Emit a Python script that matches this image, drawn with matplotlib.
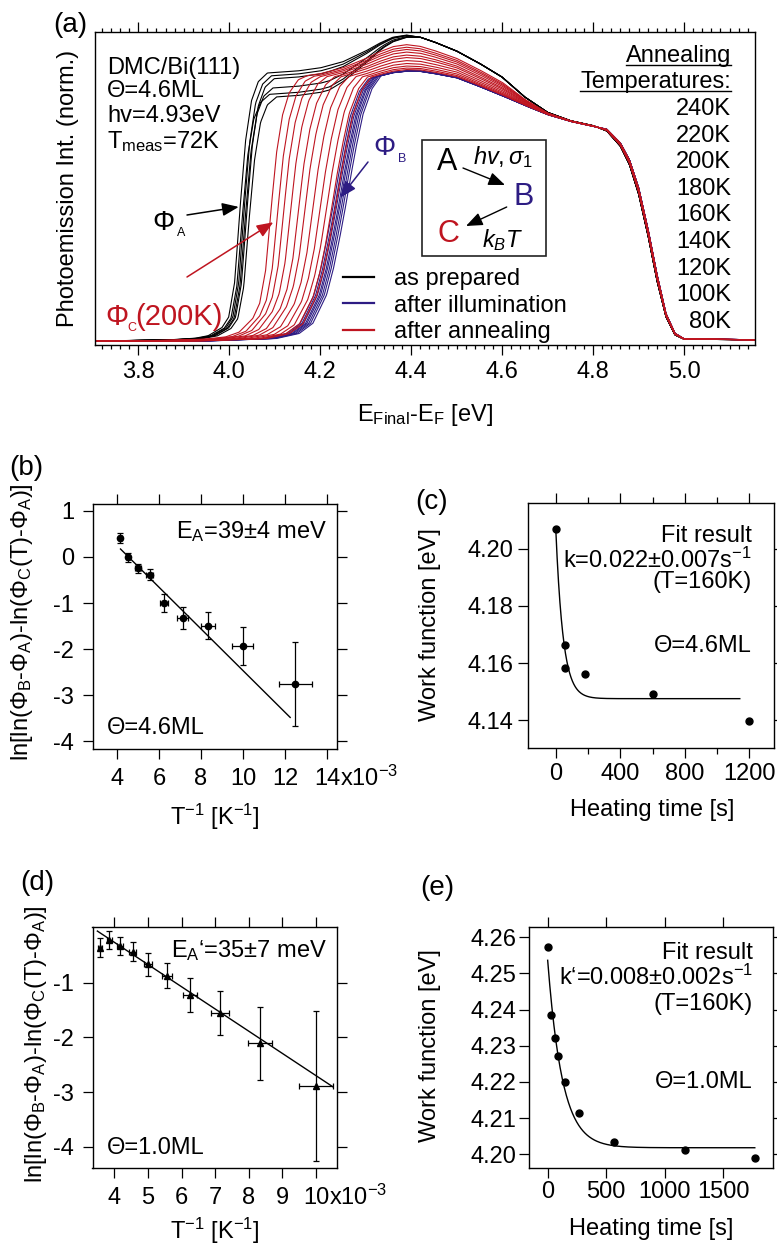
import numpy as np
import matplotlib
matplotlib.use('Agg')
import matplotlib.pyplot as plt
from matplotlib.lines import Line2D
from matplotlib.patches import Rectangle
from matplotlib.ticker import MultipleLocator, FormatStrFormatter, FuncFormatter

plt.rcParams['font.family'] = ['Liberation Sans', 'DejaVu Sans']
plt.rcParams['font.size'] = 17
plt.rcParams['mathtext.fontset'] = 'custom'
plt.rcParams['mathtext.rm'] = 'Liberation Sans'
plt.rcParams['mathtext.it'] = 'Liberation Sans:italic'
plt.rcParams['mathtext.bf'] = 'Liberation Sans:bold'
plt.rcParams['axes.unicode_minus'] = False
plt.rcParams['axes.linewidth'] = 1.0

k_B = 8.617e-5  # eV/K

BLACK = '#000000'
BLUE = '#2d1c83'
RED = '#bf1520'

# ---------------- (a) 2PPE spectra ----------------
# high energy envelope (normalised intensity) for prepared / illuminated film
env_energy = [3.70, 4.00, 4.05, 4.10, 4.15, 4.20, 4.25, 4.30, 4.33, 4.36, 4.39, 4.42,
              4.45, 4.50, 4.55, 4.60, 4.65, 4.70, 4.75, 4.80, 4.83, 4.86, 4.88, 4.90,
              4.92, 4.94, 4.96, 4.98, 5.00, 5.16]
env_prepared = [0.87, 0.87, 0.87, 0.875, 0.88, 0.89, 0.91, 0.945, 0.97, 0.99, 0.997, 0.99,
                0.975, 0.945, 0.905, 0.86, 0.795, 0.745, 0.718, 0.702, 0.685, 0.635, 0.575,
                0.48, 0.35, 0.20, 0.08, 0.02, 0.006, 0.004]
env_illuminated = [0.80, 0.80, 0.81, 0.815, 0.82, 0.83, 0.845, 0.86, 0.872, 0.882, 0.886,
                   0.884, 0.876, 0.86, 0.83, 0.80, 0.768, 0.738, 0.716, 0.70, 0.69, 0.645,
                   0.59, 0.50, 0.37, 0.22, 0.09, 0.025, 0.007, 0.004]

# low energy cut-off shape (fraction of envelope) vs. distance from the cut-off
edge_de = [-0.30, -0.15, -0.10, -0.07, -0.04, -0.025, -0.012, 0.0, 0.012, 0.025, 0.04,
           0.06, 0.08, 0.30]
edge_prepared = [0.0, 0.005, 0.01, 0.02, 0.05, 0.09, 0.22, 0.50, 0.75, 0.90, 0.97,
                 1.0, 1.0, 1.0]
edge_illuminated = [0.0, 0.01, 0.03, 0.07, 0.18, 0.28, 0.39, 0.50, 0.62, 0.74, 0.86,
                    0.95, 0.99, 1.0]

# lower plateau of some "as prepared" scans
dip_energy = [3.90, 4.06, 4.22, 4.34, 4.42]
dip_shape = [0.0, 1.0, 1.0, 0.25, 0.0]

cutoff_prepared = [4.024, 4.029, 4.033, 4.036, 4.039, 4.044]
dip_prepared = [0.0, 0.07, 0.01, 0.05, 0.02, 0.08]
cutoff_illuminated = [4.226, 4.230, 4.234, 4.238, 4.241, 4.245, 4.249, 4.254]
cutoff_annealed = [4.092, 4.107, 4.120, 4.135, 4.152, 4.166, 4.183, 4.199, 4.213,
                   4.224, 4.232]
anneal_labels = ['240K', '220K', '200K', '180K', '160K', '140K', '120K', '100K', '80K']

E = np.linspace(3.70, 5.16, 900)


def spectrum(cut, mix, dip=0.0):
    env = ((1 - mix) * np.interp(E, env_energy, env_prepared)
           + mix * np.interp(E, env_energy, env_illuminated))
    env = env - dip * np.interp(E, dip_energy, dip_shape)
    edge = ((1 - mix) * np.interp(E - cut, edge_de, edge_prepared)
            + mix * np.interp(E - cut, edge_de, edge_illuminated))
    return env * edge + 0.003


# ---------------- (b) Arrhenius, 4.6 ML ----------------
temps_b = [240, 220, 200, 180, 160, 140, 120, 100, 80]
lnln_b = [0.42, -0.01, -0.25, -0.39, -1.00, -1.32, -1.49, -1.93, -2.75]
lnln_b_err = [0.11, 0.10, 0.10, 0.12, 0.19, 0.24, 0.29, 0.41, 0.91]
invT_b_err = [0.09e-3, 0.10e-3, 0.13e-3, 0.15e-3, 0.20e-3, 0.26e-3, 0.35e-3, 0.50e-3, 0.78e-3]
EA_b = 39e-3
fit_b_offset = 2.06
fit_b_range = [4.17e-3, 12.25e-3]

# ---------------- (c) work function vs heating time, 4.6 ML ----------------
time_c = [0, 60, 60, 180, 600, 1200]
wf_c = [4.2070, 4.1664, 4.1582, 4.1562, 4.1492, 4.1397]
k_c = 0.022
wf_c_start = 4.2070
wf_c_end = 4.1475
fit_c_tmax = 1140

# ---------------- (d) Arrhenius, 1.0 ML ----------------
temps_d = [280, 260, 240, 220, 200, 180, 160, 140, 120, 100]
lnln_d = [-0.36, -0.22, -0.33, -0.43, -0.66, -0.87, -1.22, -1.56, -2.11, -2.89]
lnln_d_err = [0.17, 0.16, 0.17, 0.17, 0.21, 0.23, 0.31, 0.40, 0.67, 1.37]
invT_d_err = [0.064e-3, 0.074e-3, 0.087e-3, 0.103e-3, 0.125e-3, 0.154e-3, 0.195e-3,
              0.255e-3, 0.347e-3, 0.50e-3]
EA_d = 35e-3
fit_d_offset = 1.363
fit_d_range = [3.49e-3, 10.5e-3]

# ---------------- (e) work function vs heating time, 1.0 ML ----------------
time_e = [0, 30, 60, 90, 150, 270, 570, 1170, 1770]
wf_e = [4.2574, 4.2386, 4.2320, 4.2272, 4.2200, 4.2115, 4.2035, 4.2013, 4.1989]
k_e = 0.008
wf_e_start = 4.2536
wf_e_end = 4.2018
fit_e_tmax = 1770

# ================================================================
W, H = 777.0, 1246.0
fig = plt.figure(figsize=(7.77, 12.46), dpi=100)


def box(x0, y0, x1, y1):
    return [x0 / W, 1 - y1 / H, (x1 - x0) / W, (y1 - y0) / H]


def fpos(x, y):
    return (x / W, 1 - y / H)


ax_a = fig.add_axes(box(95, 32, 755, 345))
ax_b = fig.add_axes(box(93, 504, 337, 749))
ax_c = fig.add_axes(box(528, 503, 774, 748))
ax_d = fig.add_axes(box(92.5, 927, 336.7, 1168))
ax_e = fig.add_axes(box(529.3, 927, 772.7, 1168))

# ---- (a) ----
ax = ax_a
for cut, dip in zip(cutoff_prepared, dip_prepared):
    ax.plot(E, spectrum(cut, 0.0, dip), color=BLACK, lw=0.8)
for cut in cutoff_illuminated:
    ax.plot(E, spectrum(cut, 1.0), color=BLUE, lw=0.8)
c0, c1 = np.mean(cutoff_prepared), np.mean(cutoff_illuminated)
for cut in cutoff_annealed:
    mix = float(np.clip((cut - c0) / (c1 - c0), 0, 1))
    ax.plot(E, spectrum(cut, mix), color=RED, lw=0.8)

ax.set_xlim(3.705, 5.156)
ax.set_ylim(-0.01, 1.01)
ax.set_yticks([])
ax.xaxis.set_major_locator(MultipleLocator(0.2))
ax.xaxis.set_minor_locator(MultipleLocator(0.02))
ax.xaxis.set_major_formatter(FormatStrFormatter('%.1f'))
ax.tick_params(axis='x', which='both', direction='out', top=True, width=0.9)
ax.tick_params(axis='x', which='major', length=7.5, pad=4)
ax.tick_params(axis='x', which='minor', length=3)
ax.set_xlabel('E$_\\mathrm{Final}$-E$_\\mathrm{F}$ [eV]', va='center')
ax.xaxis.set_label_coords(0.5, -0.224)
ax.set_ylabel('Photoemission Int. (norm.)', va='center')
ax.yaxis.set_label_coords((68 - 95) / 660, 0.5)


def afrac(x, y):
    return ((x - 95) / 660, (345 - y) / 313)


info = ['DMC/Bi(111)', 'Θ=4.6ML', 'hv=4.93eV', 'T$_\\mathrm{meas}$=72K']
for txt, yb in zip(info, [74, 97, 122, 148]):
    ax.text(*afrac(107, yb), txt, transform=ax.transAxes, ha='left', va='baseline')

t_ann = ax.text(*afrac(731, 62), 'Annealing', transform=ax.transAxes,
                ha='right', va='baseline')
t_tmp = ax.text(*afrac(731, 88), 'Temperatures:', transform=ax.transAxes,
                ha='right', va='baseline')
for i, lab in enumerate(anneal_labels):
    ax.text(*afrac(731, 115 + i * 26.6), lab, transform=ax.transAxes,
            ha='right', va='baseline')

# reaction scheme
ax.add_patch(Rectangle(afrac(421.7, 256), 124 / 660, 116 / 313, transform=ax.transAxes,
                       fill=False, lw=1.2, ec='#222222'))
ax.text(*afrac(446.7, 162), 'A', transform=ax.transAxes, ha='center', va='center',
        fontsize=22, color=BLACK)
ax.text(*afrac(523.3, 197), 'B', transform=ax.transAxes, ha='center', va='center',
        fontsize=22, color=BLUE)
ax.text(*afrac(448.3, 234), 'C', transform=ax.transAxes, ha='center', va='center',
        fontsize=22, color=RED)
ax.text(*afrac(503, 157), '$\\mathit{hv,σ_1}$', transform=ax.transAxes,
        ha='center', va='center', fontsize=17)
ax.text(*afrac(503, 240), '$\\mathit{k_BT}$', transform=ax.transAxes,
        ha='center', va='center', fontsize=17)
small_head = dict(arrowstyle='-|>,head_length=0.5,head_width=0.2', color=BLACK, lw=1.0,
                  mutation_scale=20, shrinkA=0, shrinkB=0)
ax.annotate('', xy=afrac(505, 185), xytext=afrac(463, 168), xycoords='axes fraction',
            textcoords='axes fraction', arrowprops=small_head)
ax.annotate('', xy=afrac(466, 226), xytext=afrac(506.7, 207), xycoords='axes fraction',
            textcoords='axes fraction', arrowprops=small_head)

# work function markers
head = '-|>,head_length=0.5,head_width=0.2'
fig.text(*fpos(152, 230), 'Φ', fontsize=20, color=BLACK, ha='left', va='baseline')
fig.text(*fpos(177, 236), 'A', fontsize=9, color=BLACK, ha='left', va='baseline')
ax.annotate('', xy=(4.021, 0.44), xytext=(187, H - 215), textcoords='figure pixels',
            arrowprops=dict(arrowstyle=head, color=BLACK, lw=1.1, mutation_scale=20,
                            shrinkA=0, shrinkB=0))
fig.text(*fpos(373, 155), 'Φ', fontsize=20, color=BLUE, ha='left', va='baseline')
fig.text(*fpos(398, 162), 'B', fontsize=9, color=BLUE, ha='left', va='baseline')
ax.annotate('', xy=(4.244, 0.47), xytext=(368, H - 162), textcoords='figure pixels',
            arrowprops=dict(arrowstyle=head, color=BLUE, lw=1.1, mutation_scale=20,
                            shrinkA=0, shrinkB=0))
fig.text(*fpos(105, 325), 'Φ', fontsize=21, color=RED, ha='left', va='baseline')
fig.text(*fpos(127, 331), 'C', fontsize=9, color=RED, ha='left', va='baseline')
fig.text(*fpos(135, 325), '(200K)', fontsize=21, color=RED, ha='left', va='baseline')
ax.annotate('', xy=(4.097, 0.39), xytext=(187, H - 277), textcoords='figure pixels',
            arrowprops=dict(arrowstyle=head, color=RED, lw=1.1, mutation_scale=20,
                            shrinkA=0, shrinkB=0))

handles = [Line2D([], [], color=c, lw=1.6) for c in (BLACK, BLUE, RED)]
ax.legend(handles, ['as prepared', 'after illumination', 'after annealing'],
          loc='upper left', bbox_to_anchor=((343 - 95) / 660, (345 - 268) / 313),
          frameon=False, handlelength=1.3, handletextpad=0.85, labelspacing=0.2,
          borderpad=0, borderaxespad=0)


# ---- shared styling for the small panels ----
def frame(ax, pad):
    ax.tick_params(which='both', direction='out', top=True, right=True, width=0.9, pad=pad)
    ax.tick_params(which='major', length=7.5)
    ax.tick_params(which='minor', length=4)


milli = FuncFormatter(lambda v, p: f'{v * 1e3:.0f}')

# ---- (b) ----
ax = ax_b
invT_b = 1.0 / np.array(temps_b)
ax.errorbar(invT_b, lnln_b, yerr=lnln_b_err, xerr=invT_b_err, fmt='o', ms=4.5,
            color=BLACK, elinewidth=0.9, capsize=2.5, capthick=0.9)
xf = np.array(fit_b_range)
ax.plot(xf, fit_b_offset - EA_b / k_B * xf, color=BLACK, lw=1.0)
ax.set_xlim(2.86e-3, 14.48e-3)
ax.set_ylim(-4.17, 1.15)
ax.set_xticks(np.arange(4, 15, 2) * 1e-3)
ax.xaxis.set_major_formatter(milli)
ax.set_yticks([-4, -3, -2, -1, 0, 1])
frame(ax, 6)
ax.text(0.959, 0.861, 'E$_\\mathrm{A}$=39±4 meV', transform=ax.transAxes,
        ha='right', va='baseline')
ax.text(0.057, 0.061, 'Θ=4.6ML', transform=ax.transAxes, ha='left', va='baseline')
ax.set_xlabel('T$^{-1}$ [K$^{-1}$]', va='center')
ax.xaxis.set_label_coords(0.5, -0.278)
ax.set_ylabel('ln[ln(Φ$_\\mathrm{B}$-Φ$_\\mathrm{A}$)-ln(Φ$_\\mathrm{C}$(T)-Φ$_\\mathrm{A}$)]',
              va='center')
ax.yaxis.set_label_coords(-0.291, 0.518)

# ---- (c) ----
ax = ax_c
ax.plot(time_c, wf_c, 'o', ms=5, color=BLACK)
tf = np.linspace(0, fit_c_tmax, 400)
ax.plot(tf, wf_c_end + (wf_c_start - wf_c_end) * np.exp(-k_c * tf), color=BLACK, lw=1.0)
ax.set_xlim(-172, 1352)
ax.set_ylim(4.1302, 4.2161)
ax.set_xticks([0, 400, 800, 1200])
ax.set_xticks([200, 600, 1000], minor=True)
ax.set_yticks([4.14, 4.16, 4.18, 4.20])
ax.yaxis.set_major_formatter(FormatStrFormatter('%.2f'))
frame(ax, 3)
for txt, fy in zip(['Fit result', 'k=0.022±0.007s$^{-1}$', '(T=160K)', 'Θ=4.6ML'],
                   [0.841, 0.735, 0.653, 0.392]):
    ax.text(0.911, fy, txt, transform=ax.transAxes, ha='right', va='baseline')
ax.set_xlabel('Heating time [s]', va='center')
ax.xaxis.set_label_coords(0.504, -0.253)
ax.set_ylabel('Work function [eV]', va='center')
ax.yaxis.set_label_coords(-0.398, 0.502)

# ---- (d) ----
ax = ax_d
invT_d = 1.0 / np.array(temps_d)
ax.errorbar(invT_d, lnln_d, yerr=lnln_d_err, xerr=invT_d_err, fmt='^', ms=5,
            color=BLACK, elinewidth=0.9, capsize=2.5, capthick=0.9)
xf = np.array(fit_d_range)
ax.plot(xf, fit_d_offset - EA_d / k_B * xf, color=BLACK, lw=1.0)
ax.set_xlim(3.345e-3, 10.62e-3)
ax.set_ylim(-4.39, 0.02)
ax.set_xticks(np.arange(4, 11, 1) * 1e-3)
ax.xaxis.set_major_formatter(milli)
ax.set_yticks([-4, -3, -2, -1])
frame(ax, 6)
ax.text(0.96, 0.876, 'E$_\\mathrm{A}$‘=35±7 meV', transform=ax.transAxes,
        ha='right', va='baseline')
ax.text(0.059, 0.058, 'Θ=1.0ML', transform=ax.transAxes, ha='left', va='baseline')
ax.set_xlabel('T$^{-1}$ [K$^{-1}$]', va='center')
ax.xaxis.set_label_coords(0.5, -0.262)
ax.set_ylabel('ln[ln(Φ$_\\mathrm{B}$-Φ$_\\mathrm{A}$)-ln(Φ$_\\mathrm{C}$(T)-Φ$_\\mathrm{A}$)]',
              va='center')
ax.yaxis.set_label_coords(-0.232, 0.515)

# ---- (e) ----
ax = ax_e
ax.plot(time_e, wf_e, 'o', ms=5, color=BLACK)
tf = np.linspace(0, fit_e_tmax, 400)
ax.plot(tf, wf_e_end + (wf_e_start - wf_e_end) * np.exp(-k_e * tf), color=BLACK, lw=1.0)
ax.set_xlim(-157, 1923)
ax.set_ylim(4.1962, 4.2628)
ax.set_xticks([0, 500, 1000, 1500])
ax.set_yticks([4.20, 4.21, 4.22, 4.23, 4.24, 4.25, 4.26])
ax.yaxis.set_major_formatter(FormatStrFormatter('%.2f'))
frame(ax, 2)
for txt, fy in zip(['Fit result', 'k‘=0.008±0.002s$^{-1}$', '(T=160K)', 'Θ=1.0ML'],
                   [0.869, 0.758, 0.655, 0.332]):
    ax.text(0.918, fy, txt, transform=ax.transAxes, ha='right', va='baseline')
ax.set_xlabel('Heating time [s]', va='center')
ax.xaxis.set_label_coords(0.5, -0.253)
ax.set_ylabel('Work function [eV]', va='center')
ax.yaxis.set_label_coords(-0.408, 0.506)

# panel letters
for lab, (x, y) in zip(['(a)', '(b)', '(c)', '(d)', '(e)'],
                       [(70, 25), (26, 468), (432, 502), (37, 883), (437, 888)]):
    fig.text(*fpos(x, y), lab, fontsize=20, ha='center', va='center')

# underline the legend heading, and the x10^-3 suffix on the last tick
fig.canvas.draw()
r = fig.canvas.get_renderer()
for t in (t_ann, t_tmp):
    bb = t.get_window_extent(r)
    yb = ax_a.transAxes.transform(t.get_position())[1] - 3
    fig.add_artist(Line2D([bb.x0 / W, bb.x1 / W], [yb / H, yb / H],
                          transform=fig.transFigure, color=BLACK, lw=1.0))

for ax, last in ((ax_b, '14'), (ax_d, '10')):
    for tl in ax.get_xticklabels():
        if tl.get_text() == last:
            bb = tl.get_window_extent(r)
            fig.text(bb.x1 / W, (bb.y0 + 0.19 * bb.height) / H, 'x10$^{-3}$',
                     ha='left', va='baseline')

fig.savefig('out.png', dpi=100)
